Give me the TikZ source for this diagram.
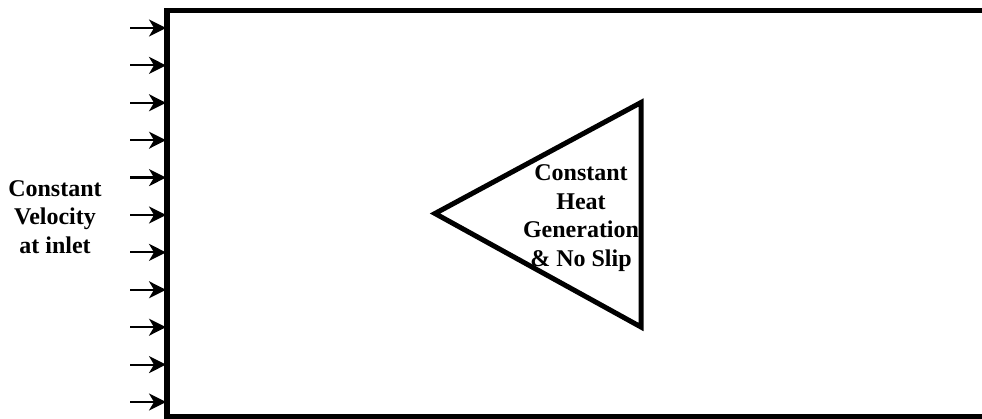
\documentclass[tikz,border=0pt]{standalone}
\usepackage{fontspec}
\setmainfont{Liberation Serif}[BoldFont={Liberation Serif Bold}]
\usetikzlibrary{arrows.meta}
\begin{document}
\begin{tikzpicture}[x=1pt,y=-1pt,
  lbl/.style={font=\fontsize{24}{28.5}\selectfont\bfseries, align=center, inner sep=0pt},
  wall/.style={line width=5.5pt},
  body/.style={line width=5pt, line join=miter},
  inflow/.style={line width=2.2pt, -{Stealth[length=17pt,width=17pt,inset=5pt]}}]
\useasboundingbox (0,0) rectangle (982,419);
\begin{scope}
  \clip (0,0) rectangle (982,419);
  \coordinate (tr) at (1000,10.5);
  \coordinate (tl) at (167,10.5);
  \coordinate (bl) at (167,416.5);
  \coordinate (br) at (1000,416.5);
  \draw[wall] (tr) -- (tl) -- (bl) -- (br);
\end{scope}
\foreach \i in {0,...,10}{
  \coordinate (s\i) at (130,{28+37.4*\i});
  \coordinate (e\i) at (166,{28+37.4*\i});
  \draw[inflow] (s\i) -- (e\i);
}
\coordinate (tipL) at (435,213.5);
\coordinate (tipT) at (641,102.5);
\coordinate (tipB) at (641,327);
\draw[body] (tipL) -- (tipT) -- (tipB) -- cycle;
\node[lbl] (inlet) at (55,217) {Constant\\Velocity\\at inlet};
\node[lbl] (heat) at (581,218) {Constant\\Heat\\Generation\\\& No Slip};
\end{tikzpicture}
\end{document}
